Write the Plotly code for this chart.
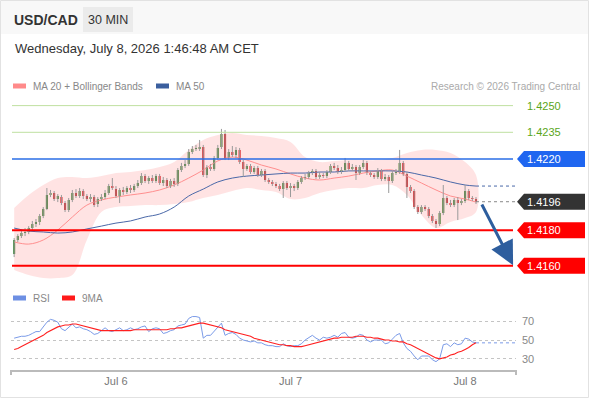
import pandas as pd
import plotly.graph_objects as go

#%% data (USD/CAD, 30 min bars)

start = "2026-07-05 10:00"
n_bars = 128

opens = [
    1.41666, 1.41745, 1.41767, 1.41784, 1.41790, 1.41812, 1.41835, 1.41846, 1.41880, 1.41919,
    1.41998, 1.42009, 1.41975, 1.41986, 1.41953, 1.41913, 1.41970, 1.42009, 1.41992, 1.42020,
    1.41992, 1.41975, 1.41986, 1.41947, 1.41975, 1.41986, 1.42009, 1.42048, 1.42031, 1.41992,
    1.42026, 1.42015, 1.42037, 1.42026, 1.42048, 1.42065, 1.42104, 1.42076, 1.42093, 1.42076,
    1.42104, 1.42065, 1.42082, 1.42048, 1.42076, 1.42060, 1.42138, 1.42161, 1.42172, 1.42239,
    1.42256, 1.42256, 1.42267, 1.42110, 1.42155, 1.42144, 1.42206, 1.42267, 1.42341, 1.42206,
    1.42239, 1.42222, 1.42251, 1.42183, 1.42144, 1.42161, 1.42127, 1.42149, 1.42110, 1.42133,
    1.42082, 1.42071, 1.42060, 1.42048, 1.42031, 1.42065, 1.42037, 1.42048, 1.42037, 1.42071,
    1.42093, 1.42099, 1.42121, 1.42133, 1.42099, 1.42110, 1.42104, 1.42127, 1.42161, 1.42149,
    1.42127, 1.42138, 1.42178, 1.42144, 1.42155, 1.42121, 1.42155, 1.42178, 1.42121, 1.42110,
    1.42099, 1.42133, 1.42088, 1.42099, 1.42076, 1.42121, 1.42127, 1.42178, 1.42116, 1.42043,
    1.42020, 1.41930, 1.41902, 1.41930, 1.41919, 1.41880, 1.41852, 1.41835, 1.41897, 1.41981,
    1.41953, 1.41941, 1.41970, 1.41953, 1.41964, 1.42020, 1.41981, 1.41975]

highs = [
    1.41756, 1.41778, 1.41801, 1.41812, 1.41823, 1.41852, 1.41863, 1.41891, 1.41930, 1.42037,
    1.42026, 1.42020, 1.42003, 1.41998, 1.41964, 1.41981, 1.42026, 1.42031, 1.42037, 1.42031,
    1.42003, 1.42003, 1.41998, 1.41986, 1.42003, 1.42026, 1.42060, 1.42093, 1.42048, 1.42037,
    1.42043, 1.42048, 1.42054, 1.42060, 1.42082, 1.42121, 1.42116, 1.42104, 1.42110, 1.42116,
    1.42116, 1.42099, 1.42093, 1.42088, 1.42093, 1.42149, 1.42178, 1.42194, 1.42256, 1.42273,
    1.42279, 1.42307, 1.42279, 1.42166, 1.42172, 1.42217, 1.42279, 1.42369, 1.42363, 1.42256,
    1.42273, 1.42267, 1.42262, 1.42194, 1.42172, 1.42172, 1.42161, 1.42161, 1.42144, 1.42144,
    1.42093, 1.42082, 1.42071, 1.42060, 1.42076, 1.42076, 1.42065, 1.42060, 1.42082, 1.42104,
    1.42116, 1.42133, 1.42144, 1.42144, 1.42127, 1.42121, 1.42138, 1.42172, 1.42178, 1.42166,
    1.42155, 1.42206, 1.42189, 1.42172, 1.42166, 1.42166, 1.42194, 1.42189, 1.42133, 1.42121,
    1.42149, 1.42144, 1.42116, 1.42110, 1.42133, 1.42144, 1.42251, 1.42189, 1.42127, 1.42054,
    1.42031, 1.41941, 1.41941, 1.41941, 1.41930, 1.41891, 1.41863, 1.41908, 1.42054, 1.41992,
    1.41970, 1.41981, 1.41986, 1.41975, 1.42054, 1.42031, 1.41992, 1.41986]

lows = [
    1.41649, 1.41734, 1.41756, 1.41767, 1.41778, 1.41801, 1.41818, 1.41829, 1.41868, 1.41913,
    1.41986, 1.41964, 1.41958, 1.41941, 1.41902, 1.41902, 1.41958, 1.41981, 1.41981, 1.41975,
    1.41964, 1.41958, 1.41930, 1.41930, 1.41964, 1.41975, 1.41998, 1.42026, 1.41981, 1.41953,
    1.41998, 1.42003, 1.42009, 1.42015, 1.42037, 1.42054, 1.42065, 1.42060, 1.42065, 1.42065,
    1.42054, 1.42048, 1.42037, 1.42037, 1.42043, 1.42048, 1.42127, 1.42149, 1.42161, 1.42228,
    1.42245, 1.42245, 1.42099, 1.42093, 1.42133, 1.42133, 1.42194, 1.42256, 1.42194, 1.42194,
    1.42211, 1.42206, 1.42172, 1.42099, 1.42133, 1.42116, 1.42116, 1.42099, 1.42099, 1.42071,
    1.42060, 1.42048, 1.42037, 1.42020, 1.41981, 1.42026, 1.41986, 1.42020, 1.42026, 1.42060,
    1.42082, 1.42088, 1.42110, 1.42088, 1.42088, 1.42093, 1.42093, 1.42116, 1.42138, 1.42116,
    1.42116, 1.42127, 1.42133, 1.42133, 1.42082, 1.42110, 1.42144, 1.42110, 1.42099, 1.42088,
    1.42088, 1.42076, 1.42076, 1.42009, 1.42065, 1.42110, 1.42116, 1.42104, 1.41981, 1.42009,
    1.41919, 1.41891, 1.41891, 1.41908, 1.41868, 1.41840, 1.41812, 1.41823, 1.41885, 1.41941,
    1.41930, 1.41930, 1.41857, 1.41941, 1.41953, 1.41970, 1.41964, 1.41947]

closes = [
    1.41745, 1.41767, 1.41784, 1.41790, 1.41812, 1.41835, 1.41846, 1.41880, 1.41919, 1.41998,
    1.42009, 1.41975, 1.41992, 1.41953, 1.41913, 1.41970, 1.42009, 1.41992, 1.42020, 1.41992,
    1.41975, 1.41986, 1.41941, 1.41975, 1.41986, 1.42009, 1.42048, 1.42037, 1.41992, 1.42026,
    1.42015, 1.42037, 1.42026, 1.42048, 1.42065, 1.42104, 1.42076, 1.42093, 1.42076, 1.42104,
    1.42065, 1.42082, 1.42048, 1.42076, 1.42060, 1.42138, 1.42161, 1.42172, 1.42239, 1.42256,
    1.42262, 1.42267, 1.42110, 1.42155, 1.42144, 1.42206, 1.42262, 1.42341, 1.42206, 1.42239,
    1.42222, 1.42251, 1.42183, 1.42144, 1.42161, 1.42127, 1.42149, 1.42110, 1.42133, 1.42082,
    1.42071, 1.42060, 1.42048, 1.42031, 1.42065, 1.42037, 1.42048, 1.42037, 1.42071, 1.42093,
    1.42099, 1.42121, 1.42133, 1.42099, 1.42110, 1.42104, 1.42127, 1.42161, 1.42149, 1.42127,
    1.42138, 1.42178, 1.42144, 1.42155, 1.42121, 1.42155, 1.42178, 1.42121, 1.42110, 1.42099,
    1.42133, 1.42088, 1.42099, 1.42076, 1.42121, 1.42127, 1.42178, 1.42116, 1.42043, 1.42020,
    1.41930, 1.41902, 1.41930, 1.41919, 1.41880, 1.41852, 1.41835, 1.41897, 1.41981, 1.41953,
    1.41941, 1.41970, 1.41953, 1.41964, 1.42020, 1.41981, 1.41975, 1.41960]

# indicators, read every 4th bar
band_idx = list(range(0, 125, 4)) + [127]
bb_upper = [1.41925, 1.41998, 1.42054, 1.42093, 1.42099, 1.42093, 1.42104, 1.42121, 1.42127,
            1.42138, 1.42155, 1.42183, 1.42251, 1.42307, 1.42335, 1.42346, 1.42335, 1.42329,
            1.42318, 1.42296, 1.42211, 1.42183, 1.42189, 1.42194, 1.42194, 1.42194, 1.42206,
            1.42234, 1.42251, 1.42251, 1.42234, 1.42183, 1.42110]
bb_lower = [1.41576, 1.41548, 1.41531, 1.41531, 1.41548, 1.41745, 1.41902, 1.41930, 1.41936,
            1.41941, 1.41941, 1.41947, 1.41958, 1.41981, 1.41998, 1.42020, 1.42037, 1.42026,
            1.42015, 1.41975, 1.41981, 1.42009, 1.42026, 1.42037, 1.42037, 1.42054, 1.42054,
            1.41998, 1.41885, 1.41812, 1.41846, 1.41868, 1.41902]
ma20 = [1.41734, 1.41722, 1.41745, 1.41801, 1.41874, 1.41941, 1.41970, 1.41986, 1.41998,
        1.42009, 1.42026, 1.42054, 1.42093, 1.42138, 1.42189, 1.42211, 1.42194, 1.42166,
        1.42144, 1.42116, 1.42093, 1.42082, 1.42093, 1.42104, 1.42121, 1.42133, 1.42138,
        1.42104, 1.42065, 1.42026, 1.41992, 1.41975, 1.41958]
ma50 = [1.41812, 1.41795, 1.41790, 1.41784, 1.41790, 1.41807, 1.41823, 1.41840, 1.41852,
        1.41874, 1.41891, 1.41930, 1.41992, 1.42031, 1.42071, 1.42093, 1.42104, 1.42110,
        1.42116, 1.42121, 1.42121, 1.42127, 1.42127, 1.42133, 1.42133, 1.42133, 1.42133,
        1.42127, 1.42110, 1.42093, 1.42071, 1.42054, 1.42048]

rsi = [52, 53, 54, 54, 55, 57, 59, 59, 64, 69, 72, 71, 69, 62, 60, 64, 67, 63, 64, 62,
       61, 59, 56, 57, 60, 63, 60, 59, 61, 63, 60, 61, 63, 61, 62, 64, 65, 59, 62, 63,
       62, 57, 58, 60, 61, 65, 66, 67, 73, 75, 75, 74, 52, 55, 55, 59, 64, 68, 55, 57,
       58, 56, 52, 50, 49, 48, 49, 47, 47, 45, 44, 44, 43, 43, 46, 44, 43, 44, 44, 46,
       50, 53, 55, 52, 50, 53, 52, 53, 55, 53, 57, 58, 53, 52, 53, 56, 55, 50, 48, 50,
       50, 50, 46, 47, 51, 55, 57, 47, 41, 38, 33, 29, 33, 33, 33, 29, 27, 30, 45, 46,
       43, 47, 45, 46, 52, 51, 48, 47]
rsi_ma9 = [40, 41, 43, 45, 47, 49, 51, 53, 55, 58, 60, 62, 64, 65, 66, 66, 67, 67, 66, 65,
           64, 63, 62, 61, 60, 60, 60, 60, 60, 60, 60, 60, 60, 61, 61, 61, 61, 61, 61, 61,
           61, 61, 61, 62, 62, 63, 63, 64, 65, 66, 67, 68, 68, 67, 66, 65, 64, 63, 61, 60,
           59, 58, 57, 56, 55, 54, 52, 51, 50, 49, 48, 47, 46, 45, 45, 44, 44, 43, 43, 43,
           44, 45, 46, 47, 48, 49, 50, 51, 52, 52, 53, 53, 53, 53, 54, 54, 54, 53, 53, 52,
           52, 51, 50, 50, 49, 49, 48, 48, 46, 45, 43, 41, 39, 37, 35, 33, 31, 30, 31, 32,
           34, 35, 37, 38, 40, 42, 45, 47]

levels = [1.4250, 1.4235, 1.4220, 1.4180, 1.4160]
level_kinds = ["res", "res", "pivot", "sup", "sup"]
last_price = 1.4196

rsi_ticks = [30, 50, 70]
date_ticks = ["2026-07-06", "2026-07-07", "2026-07-08"]
date_text = ["Jul 6", "Jul 7", "Jul 8"]
x_range = ["2026-07-05 09:34", "2026-07-08 07:00"]

arrow_from = ("2026-07-08 02:12", 1.41953)
arrow_to = ("2026-07-08 06:36", 1.41603)

#%% layout helpers (pixel -> paper)

W, H = 590, 400
ML, MR, MT, MB = 11, 74, 95, 30
PW, PH = W - ML - MR, H - MT - MB

def fx(px):
    return (px - ML) / PW

def fy(py):
    return (H - MB - py) / PH

price_range = [1.414921, 1.425596]
price_per_px = (price_range[1] - price_range[0]) / 190
rsi_range = [18.1, 87.3]

FONT = "Liberation Sans, Arial, sans-serif"

times = pd.date_range(start, periods=n_bars, freq="30min")
band_t = times[band_idx]

#%% traces

fig = go.Figure()

# bollinger band fill
fig.add_trace(go.Scatter(
    x=list(band_t) + list(band_t[::-1]), y=bb_upper + bb_lower[::-1],
    fill="toself", fillcolor="rgba(255,0,0,0.11)", line=dict(width=0, shape="spline"),
    mode="lines", hoverinfo="skip", showlegend=False))

fig.add_trace(go.Scatter(x=band_t, y=ma20, mode="lines",
                         line=dict(color="#ff8f8f", width=1, shape="spline"),
                         hoverinfo="skip", showlegend=False))
fig.add_trace(go.Scatter(x=band_t, y=ma50, mode="lines",
                         line=dict(color="#4a68a8", width=1, shape="spline"),
                         hoverinfo="skip", showlegend=False))

# wicks in grey, behind the bodies
wx, wy = [], []
for t, lo, hi in zip(times, lows, highs):
    wx += [t, t, None]
    wy += [lo, hi, None]
fig.add_trace(go.Scatter(x=wx, y=wy, mode="lines", line=dict(color="#9a9a9a", width=1),
                         hoverinfo="skip", showlegend=False))

fig.add_trace(go.Candlestick(
    x=times, open=opens, high=highs, low=lows, close=closes,
    increasing=dict(fillcolor="#2a8a2a", line=dict(color="#2a8a2a", width=0)),
    decreasing=dict(fillcolor="#e3161b", line=dict(color="#e3161b", width=0)),
    whiskerwidth=0, showlegend=False, hoverinfo="skip"))

# dotted extensions to the right edge
fig.add_trace(go.Scatter(x=[times[-1], x_range[1]], y=[ma50[-1], ma50[-1]], mode="lines",
                         line=dict(color="#4a68a8", width=1, dash="dot"),
                         hoverinfo="skip", showlegend=False))
fig.add_trace(go.Scatter(x=[times[-1], x_range[1]], y=[last_price, last_price], mode="lines",
                         line=dict(color="#888888", width=1, dash="dot"),
                         hoverinfo="skip", showlegend=False))

# RSI panel
fig.add_trace(go.Scatter(x=times, y=rsi, mode="lines", line=dict(color="#7b9be8", width=1),
                         xaxis="x2", yaxis="y2", hoverinfo="skip", showlegend=False))
fig.add_trace(go.Scatter(x=times, y=rsi_ma9, mode="lines", line=dict(color="#ff2020", width=1.1),
                         xaxis="x2", yaxis="y2", hoverinfo="skip", showlegend=False))
fig.add_trace(go.Scatter(x=[times[-1], x_range[1]], y=[rsi[-1], rsi[-1]], mode="lines",
                         line=dict(color="#7b9be8", width=1, dash="dot"),
                         xaxis="x2", yaxis="y2", hoverinfo="skip", showlegend=False))

#%% shapes and annotations

shapes = []
annotations = []

# frame and header band
shapes.append(dict(type="rect", xref="paper", yref="paper", x0=fx(1), x1=fx(588), y0=fy(1), y1=fy(34),
                   fillcolor="#f8f8f8", line=dict(width=0), layer="below"))
shapes.append(dict(type="rect", xref="paper", yref="paper", x0=fx(0.5), x1=fx(588.5), y0=fy(0.5),
                   y1=fy(397.5), line=dict(color="#e2e2e2", width=1), layer="below"))
shapes.append(dict(type="rect", xref="paper", yref="paper", x0=fx(83), x1=fx(133), y0=fy(7), y1=fy(32),
                   fillcolor="#ebebeb", line=dict(width=0), layer="below"))

def text(x, y, s, size, color, anchor="left"):
    annotations.append(dict(xref="paper", yref="paper", x=fx(x), y=fy(y), text=s, showarrow=False,
                            xanchor=anchor, yanchor="middle", font=dict(family=FONT, size=size, color=color)))

text(12, 20, "<b>USD/CAD</b>", 14, "#333333")
text(108, 20, "30 MIN", 12.5, "#333333", "center")
text(13, 48, "Wednesday, July 8, 2026 1:46:48 AM CET", 13, "#333333")

# legends
def swatch(x, y, color):
    shapes.append(dict(type="rect", xref="paper", yref="paper", x0=fx(x), x1=fx(x + 13),
                       y0=fy(y + 2.5), y1=fy(y - 2.5), fillcolor=color, line=dict(width=0)))

swatch(13, 86, "#ff8a8a")
text(31, 86, "MA 20 + Bollinger Bands", 10, "#888888")
swatch(156, 86, "#3b5f9e")
text(174, 86, "MA 50", 10, "#888888")
text(582, 86, "Research © 2026 Trading Central", 10, "#aaaaaa", "right")

swatch(13, 298, "#6d8fe3")
text(31, 298, "RSI", 10, "#888888")
swatch(62, 298, "#ff1a1a")
text(80, 298, "9MA", 10, "#888888")

# horizontal levels with their price tags
line_style = {"res": ("#bfe0a0", 1), "pivot": ("#2a6ee6", 1.3), "sup": ("#ff0000", 2)}
tag_fill = {"res": None, "pivot": "#1f66f0", "sup": "#ff0000", "last": "#333333"}
half = 8 * price_per_px

def tag(level, kind):
    if tag_fill[kind]:
        path = (f"M {fx(517)},{level} L {fx(524)},{level + half} L {fx(585)},{level + half} "
                f"L {fx(585)},{level - half} L {fx(524)},{level - half} Z")
        shapes.append(dict(type="path", xref="paper", yref="y", path=path,
                           fillcolor=tag_fill[kind], line=dict(width=0)))
        color = "white"
    else:
        color = "#5aa51a"
    annotations.append(dict(xref="paper", yref="y", x=fx(525), y=level, text=f"{level:.4f}",
                            showarrow=False, xanchor="left", yanchor="middle",
                            font=dict(family=FONT, size=11, color=color)))

for lv, kind in zip(levels, level_kinds):
    color, width = line_style[kind]
    shapes.append(dict(type="line", xref="paper", yref="y", x0=fx(12), x1=fx(513), y0=lv, y1=lv,
                       line=dict(color=color, width=width), layer="above"))
    tag(lv, kind)
tag(last_price, "last")

# forecast arrow
annotations.append(dict(x=arrow_to[0], y=arrow_to[1], ax=arrow_from[0], ay=arrow_from[1],
                        xref="x", yref="y", axref="x", ayref="y", text="", showarrow=True,
                        arrowhead=2, arrowsize=1.6, arrowwidth=3, arrowcolor="#2e5e9e"))

# small end ticks on the time axis
for x in (11, 516):
    shapes.append(dict(type="line", xref="paper", yref="paper", x0=fx(x), x1=fx(x), y0=fy(370), y1=fy(375),
                       line=dict(color="#bbbbbb", width=2)))

fig.update_layout(
    width=W, height=H,
    margin=dict(l=ML, r=MR, t=MT, b=MB),
    paper_bgcolor="white", plot_bgcolor="rgba(0,0,0,0)",
    showlegend=False, boxgap=0.2,
    font=dict(family=FONT),
    xaxis=dict(anchor="y", matches="x2", range=x_range, showticklabels=False, showgrid=False,
               zeroline=False, rangeslider=dict(visible=False), type="date"),
    yaxis=dict(domain=[fy(285), 1], range=price_range, showticklabels=False, showgrid=False,
               zeroline=False),
    xaxis2=dict(anchor="y2", range=x_range, type="date", showgrid=False, zeroline=False,
                showline=True, linecolor="#bbbbbb", linewidth=2,
                tickvals=date_ticks, ticktext=date_text, ticks="",
                tickfont=dict(size=11, color="#777777")),
    yaxis2=dict(domain=[0, fy(305)], range=rsi_range, side="right", tickvals=rsi_ticks, ticks="",
                showgrid=True, gridcolor="#c4c4c4", griddash="dot", gridwidth=1, zeroline=False,
                ticklabelstandoff=5, tickfont=dict(size=11, color="#888888")),
    shapes=shapes, annotations=annotations,
)

# the page's default body margin would push the 590x400 figure off the window
fig.write_html("out.html", config={"displayModeBar": False},
               post_script="document.body.style.margin='0';")
